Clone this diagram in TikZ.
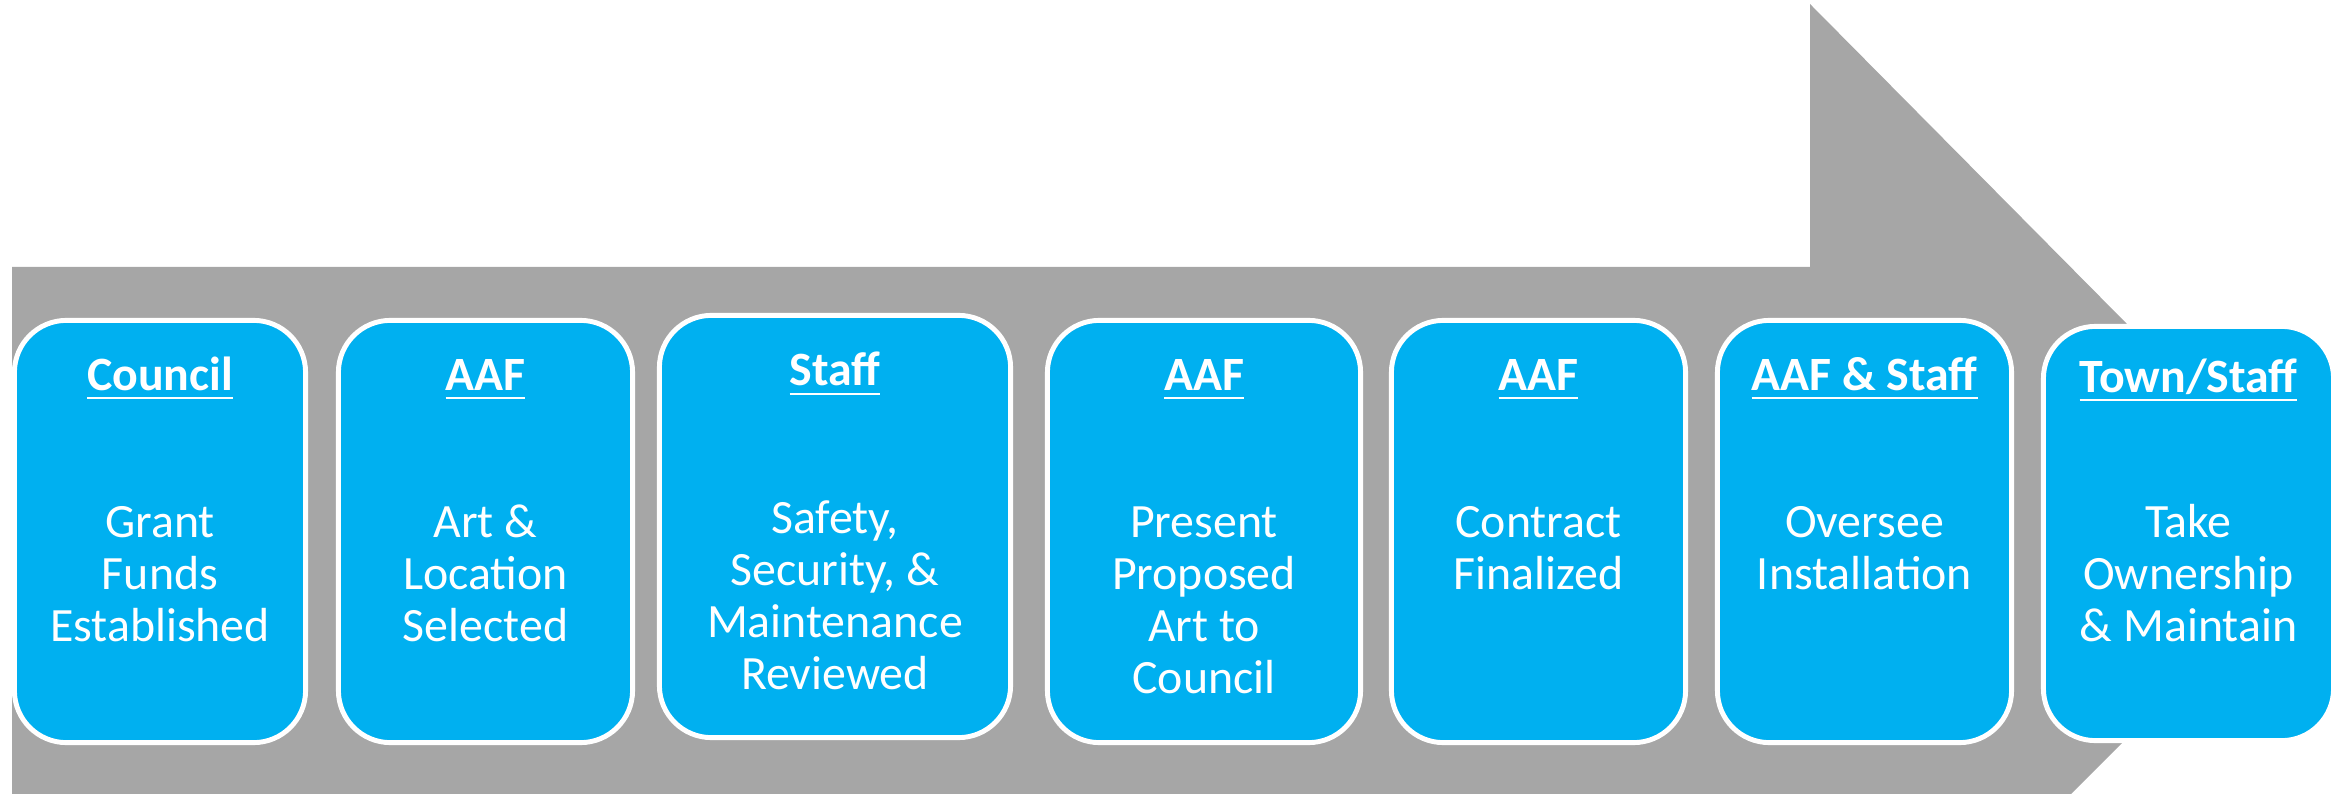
\documentclass[tikz,border=0pt]{standalone}
\usepackage{fontspec}
\setmainfont{Carlito}
\usepackage{xcolor}
\usepackage{tikz}

\definecolor{stepblue}{HTML}{00B0F0}
\definecolor{arrowgray}{HTML}{A6A6A6}

\newlength{\titlewd}
\newcommand{\titleline}[1]{\settowidth{\titlewd}{#1}#1\llap{\rule[-2.7pt]{\titlewd}{0.85pt}}}
\newcommand{\steplines}[1]{\begin{tabular}[t]{@{}c@{}}#1\end{tabular}}

\tikzset{
  stepbox/.style={draw=white, line width=1.4pt, fill=stepblue, rounded corners=0.52cm,
    minimum height=4.22cm, inner sep=0pt},
  stephead/.style={anchor=base, inner sep=0pt, text=white,
    font=\fontsize{13.6}{14.8}\selectfont\bfseries},
  stepbody/.style={anchor=base, inner sep=0pt, text=white,
    font=\fontsize{13.6}{14.8}\selectfont}
}

\begin{document}
\begin{tikzpicture}[x=0.01cm, y=-0.01cm]
  \useasboundingbox (0,0) rectangle (2351,794);
  % big gray arrow behind the steps
  \fill[arrowgray] (12,267) -- (1810,267) -- (1810,4) -- (2333,532)
    -- (2071,794) -- (12,794) -- cycle;

  % the seven steps
  \node[stepbox, minimum width=2.91cm] (box1) at (160,531.5) {};
  \node[stepbox, minimum width=2.94cm] (box2) at (485.5,531.5) {};
  \node[stepbox, minimum width=3.51cm] (box3) at (835,526.5) {};
  \node[stepbox, minimum width=3.13cm] (box4) at (1204,531.5) {};
  \node[stepbox, minimum width=2.94cm] (box5) at (1538.5,531.5) {};
  \node[stepbox, minimum width=2.94cm] (box6) at (1864.5,531.5) {};
  \node[stepbox, minimum width=2.90cm, minimum height=4.14cm] (box7) at (2188.5,533.5) {};

  % who
  \node[stephead] (head1) at (160,390) {\titleline{Council}};
  \node[stephead] (head2) at (485.5,390) {\titleline{AAF}};
  \node[stephead] (head3) at (835,386) {\titleline{Staff}};
  \node[stephead] (head4) at (1204,390) {\titleline{AAF}};
  \node[stephead] (head5) at (1538.5,390) {\titleline{AAF}};
  \node[stephead] (head6) at (1864.5,390) {\titleline{AAF \& Staff}};
  \node[stephead] (head7) at (2188.5,392) {\titleline{Town/Staff}};

  % what
  \node[stepbody] (text1) at (160,537) {\steplines{Grant\\Funds\\Established}};
  \node[stepbody] (text2) at (485.5,537) {\steplines{Art \&\\Location\\Selected}};
  \node[stepbody] (text3) at (835,533) {\steplines{Safety,\\Security, \&\\Maintenance\\Reviewed}};
  \node[stepbody] (text4) at (1204,537) {\steplines{Present\\Proposed\\Art to\\Council}};
  \node[stepbody] (text5) at (1538.5,537) {\steplines{Contract\\Finalized}};
  \node[stepbody] (text6) at (1864.5,537) {\steplines{Oversee\\Installation}};
  \node[stepbody] (text7) at (2188.5,537) {\steplines{Take\\Ownership\\\& Maintain}};
\end{tikzpicture}
\end{document}
